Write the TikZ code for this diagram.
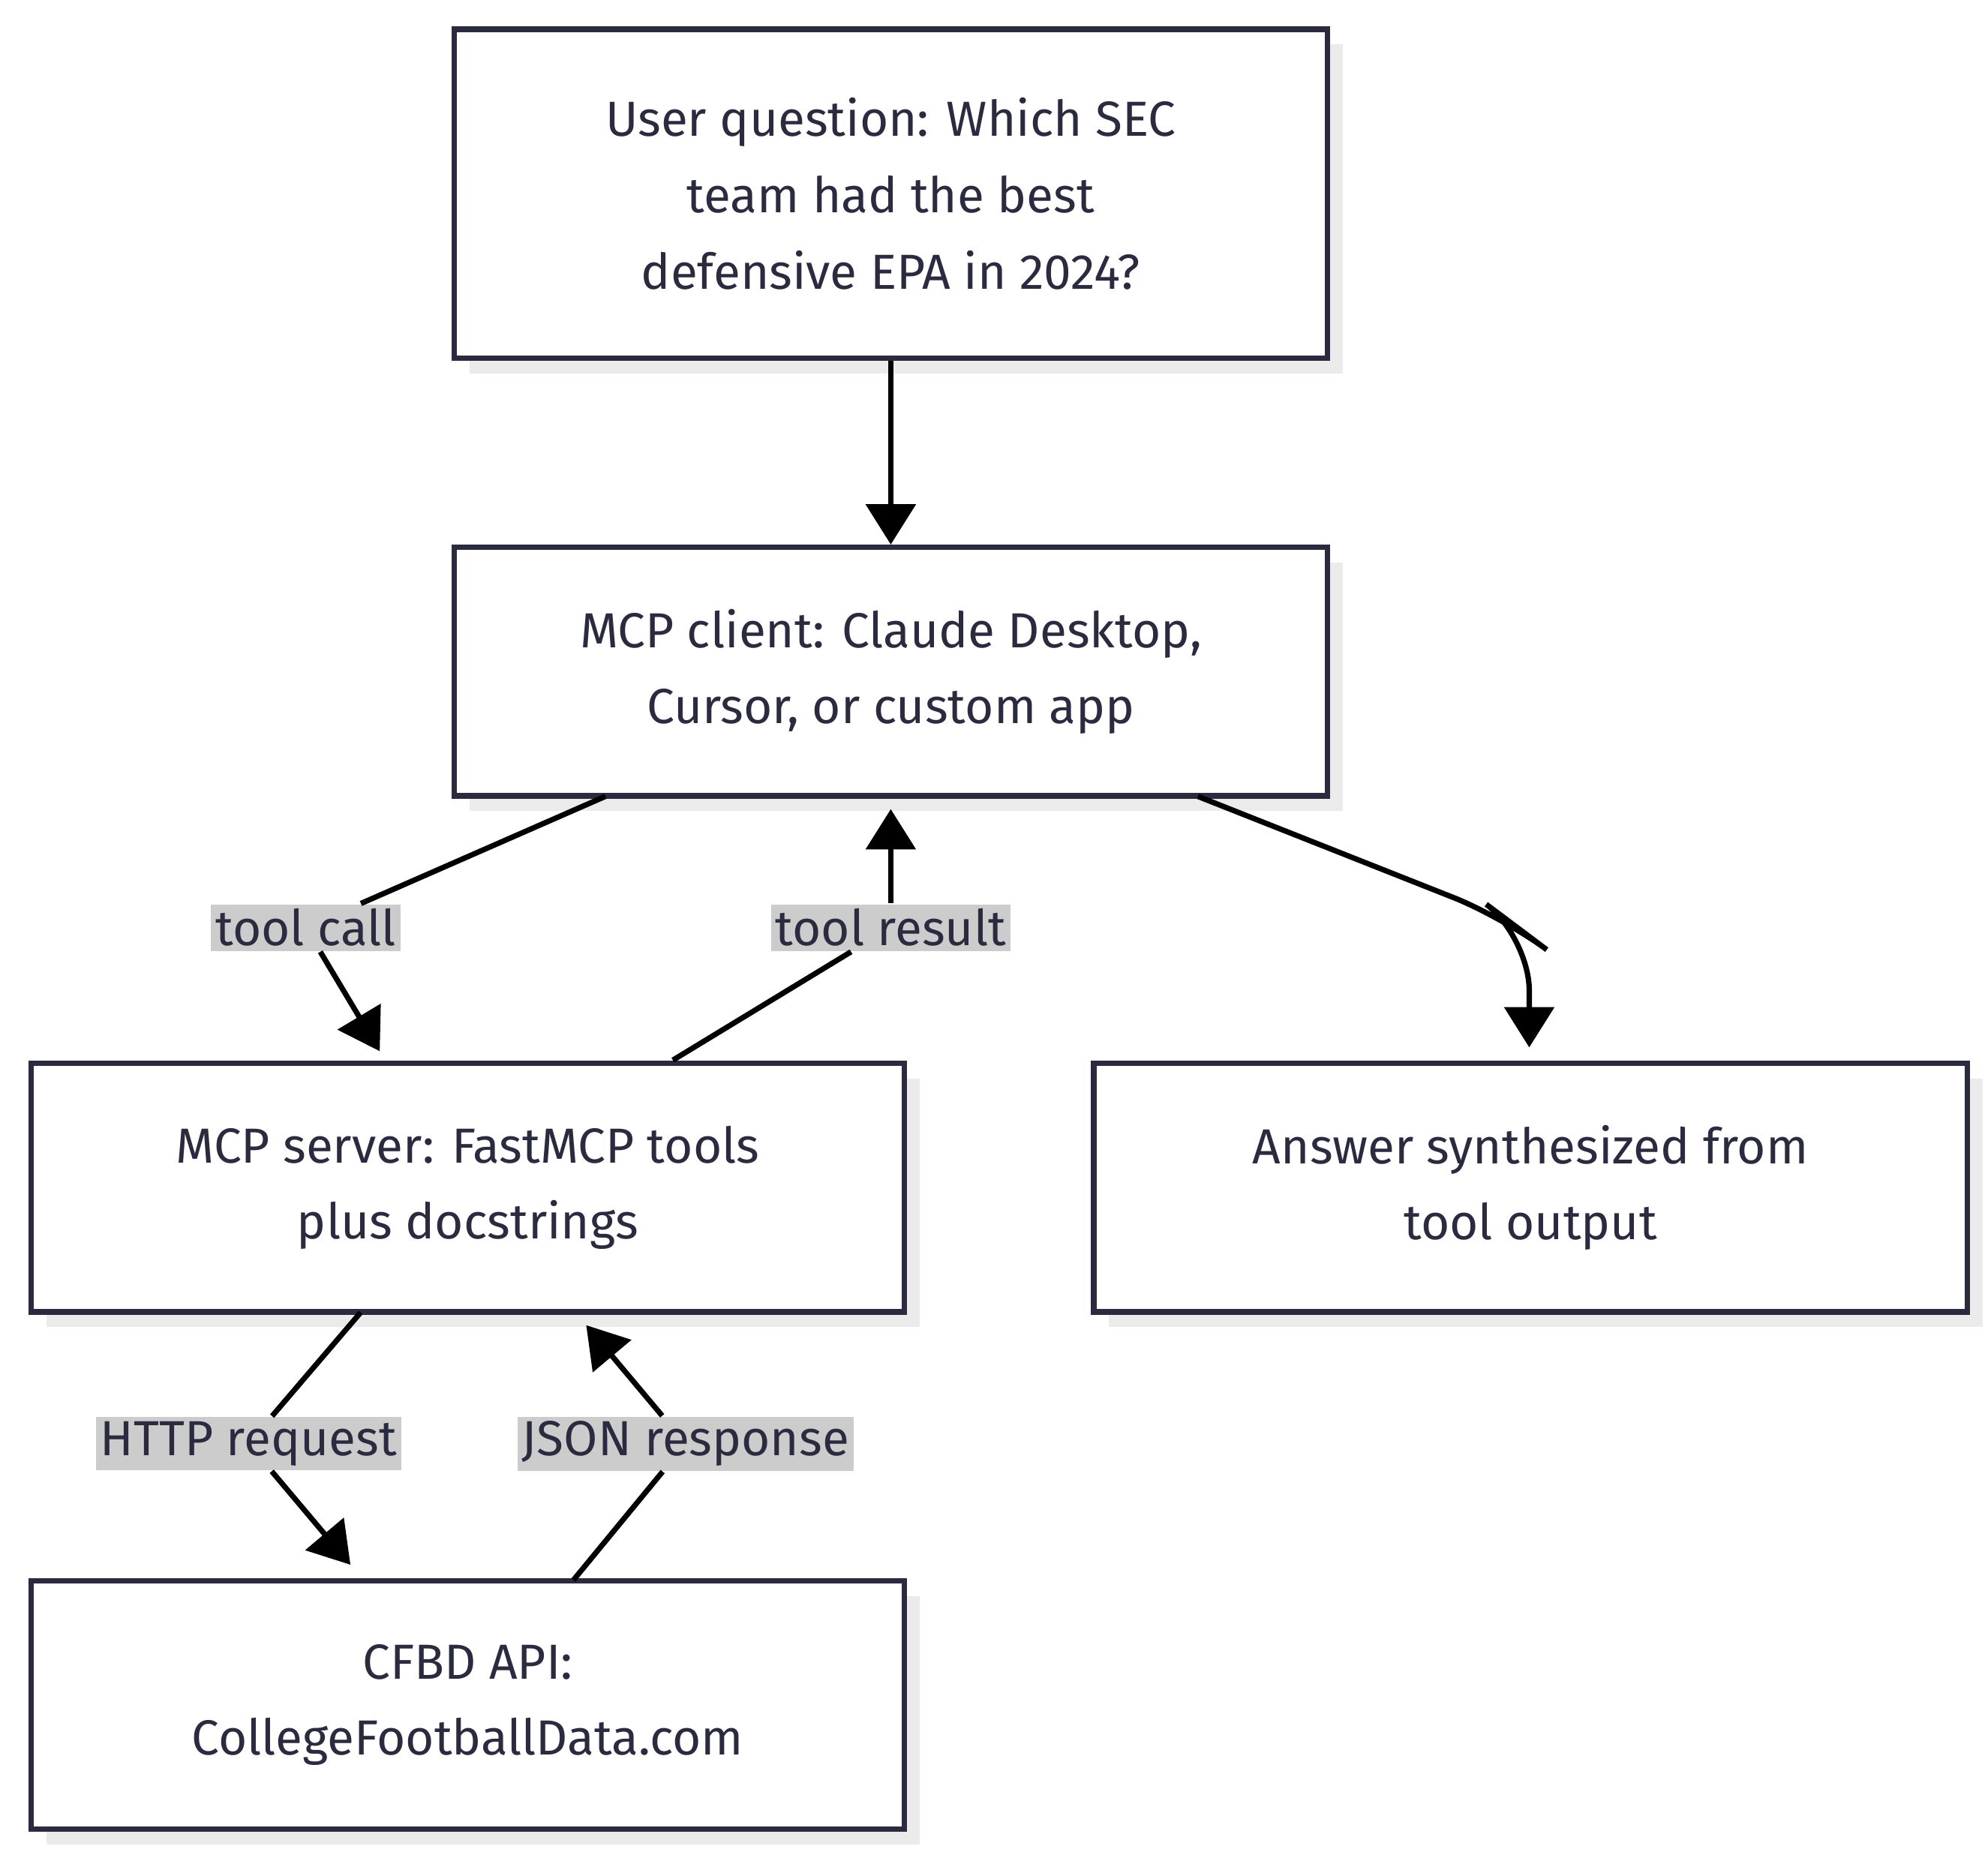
\documentclass[tikz,border=0pt]{standalone}
\usepackage{fontspec}
\setmainfont{Fira Sans}
\usetikzlibrary{arrows.meta, shadows}
\definecolor{ink}{HTML}{2B2B40}
\definecolor{lbl}{HTML}{CCCCCC}
\tikzset{
    box/.style={draw=ink,line width=1.2pt,fill=white,text=ink,align=center,
        minimum width=6.85cm,minimum height=1.95cm,font=\fontsize{11}{17}\selectfont,
        drop shadow={shadow xshift=0.12cm,shadow yshift=-0.12cm,fill=black!8,opacity=1}},
    lab/.style={fill=lbl,text=ink,inner sep=1pt,font=\fontsize{11}{13}\selectfont},
    flow/.style={draw,line width=1.2pt,-{Triangle[length=9pt,width=11pt]},rounded corners=12pt},
    wire/.style={draw,line width=1.2pt},
}
\begin{document}
\begin{tikzpicture}[x=0.01cm,y=-0.01cm]
\useasboundingbox (0,0) rectangle (1560,1451);
\node[box,minimum height=2.58cm] (question) at (699,152) {User question: Which SEC\\team had the best\\defensive EPA in 2024?};
\node[box] (client) at (699,527) {MCP client: Claude Desktop,\\Cursor, or custom app};
\node[box] (server) at (367,932) {MCP server: FastMCP tools\\plus docstrings};
\node[box] (answer) at (1201,932) {Answer synthesized from\\tool output};
\node[box] (cfbd) at (367,1338) {CFBD API:\\CollegeFootballData.com};
% edge labels
\node[lab] (call) at (240,728) {tool call};
\node[lab] (result) at (699,728) {tool result};
\node[lab] (http) at (195,1133) {HTTP request};
\node[lab] (json) at (538,1133) {JSON response};
\coordinate (bend) at (1200,735);
% connectors
\draw[flow] (question) -- (client);
\draw[wire] (475,625) -- (call);
\draw[flow] (call) -- (298,825);
\draw[wire] (528,832) -- (result);
\draw[flow] (result) -- (699,635);
\draw[flow] (940,625) -- (1180,720) -- (bend) -- (1200,822);
\draw[wire] (283,1030) -- (http);
\draw[flow] (http) -- (275,1228);
\draw[wire] (450,1240) -- (json);
\draw[flow] (json) -- (460,1040);
\end{tikzpicture}
\end{document}
